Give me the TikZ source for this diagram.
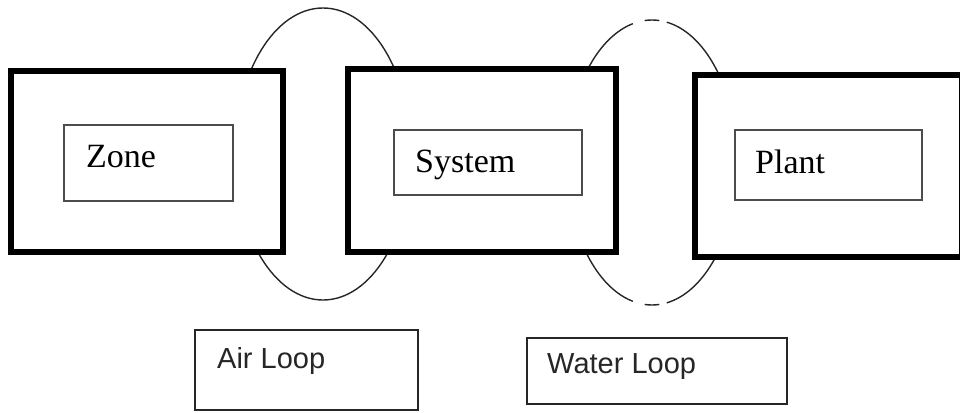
\documentclass[tikz,border=0pt]{standalone}
\usepackage{fontspec}
\newfontfamily\unitfont{Liberation Serif}
\newfontfamily\loopfont{Liberation Sans}

\begin{document}
\begin{tikzpicture}
    [x=1pt,y=-1pt,%%%%%%%%%%%%%%%%%%%%%%%%%%%%%%
        outerbox/.style={rectangle,draw=black,line width=6pt,fill=white,inner sep=0pt},
        innerbox/.style={rectangle,draw=black!70,line width=1.8pt,inner sep=0pt},
        loopbox/.style={rectangle,draw=black!85,line width=2pt,inner sep=0pt},
        loopline/.style={draw=black!85,line width=1.4pt},
        unitname/.style={anchor=base west,inner sep=0pt,font=\unitfont\fontsize{34}{40}\selectfont},
        loopname/.style={anchor=base west,inner sep=0pt,text=black!85,font=\loopfont\fontsize{29}{34}\selectfont},
    ]%%%%%%%%%%%%%%%%%%%%%%%%%%%%%%

\useasboundingbox (0,0) rectangle (960,412);
\clip (0,0) rectangle (960,412);

% the two loops, partly hidden behind the boxes
\coordinate (air) at (323,154);
\coordinate (water) at (652,162.5);
\draw[loopline] (air) ellipse[x radius=88, y radius=146];
\foreach \a/\b in {-80/80,85/95,103/257,265/275}
    \draw[loopline] ([shift={(\a:85 and 142.5)}]water) arc[start angle=\a, end angle=\b, x radius=85, y radius=142.5];

% outer boxes
\foreach \name/\x/\y/\w/\h in {zone/147/161.5/272/181, system/482/160.5/268/183, plant/828.5/166/267/182}
    \node[outerbox,minimum width=\w pt,minimum height=\h pt] (\name) at (\x,\y){};

% inner boxes with their names
\node[innerbox,minimum width=169pt,minimum height=76pt] (zonein) at (148.5,163){};
\node[innerbox,minimum width=188pt,minimum height=65pt] (systemin) at (488,162.5){};
\node[innerbox,minimum width=187pt,minimum height=70pt] (plantin) at (828.5,165){};
\node[unitname] (zonetext) at (86,167){Zone};
\node[unitname] (systemtext) at (415,172){System};
\node[unitname] (planttext) at (755,173){Plant};

% loop boxes
\node[loopbox,minimum width=223pt,minimum height=80pt] (airloop) at (306.5,370){};
\node[loopbox,minimum width=260pt,minimum height=66pt] (waterloop) at (657,371){};
\node[loopname] (airtext) at (217,368){Air Loop};
\node[loopname] (watertext) at (547,373){Water Loop};
\end{tikzpicture}
\end{document}
